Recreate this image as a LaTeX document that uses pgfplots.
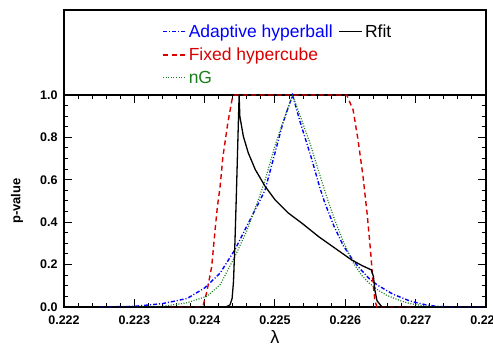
\documentclass[border=0pt]{standalone}
\usepackage{fontspec}
\setmainfont{Liberation Sans}
\usepackage{pgfplots}
\pgfplotsset{compat=1.18}
\definecolor{cblue}{rgb}{0,0,1}
\definecolor{cred}{rgb}{0.85,0,0}
\definecolor{cgreen}{rgb}{0.1,0.5,0.1}
\begin{document}
\begin{tikzpicture}
\begin{axis}[
  scale only axis, width=422pt, height=212pt,
  at={(0pt,0pt)}, anchor=south west,
  xmin=0.222, xmax=0.228, ymin=0, ymax=1,
  xtick={0.222,0.223,0.224,0.225,0.226,0.227,0.228},
  xticklabels={0.222,0.223,0.224,0.225,0.226,0.227,0.228},
  ytick={0,0.2,0.4,0.6,0.8,1},
  yticklabels={0.0,0.2,0.4,0.6,0.8,1.0},
  minor x tick num=4, minor y tick num=3,
  tick align=inside,
  major tick length=8pt, minor tick length=4pt,
  axis line style={line width=1.2pt},
  every tick/.style={black, line width=1pt},
  tick label style={font=\bfseries\fontsize{12.5}{14}\selectfont},
  xticklabel style={yshift=-5pt},
  yticklabel style={xshift=-3pt},
  xlabel={λ}, xlabel style={font=\fontsize{18}{20}\selectfont, inner sep=0pt, yshift=-3pt},
  ylabel={p-value}, ylabel style={font=\bfseries\fontsize{13}{15}\selectfont,
    at={(axis description cs:-0.0965,0.5)}, anchor=south, inner sep=0pt},
  clip=false,
  legend style={at={(axis description cs:0.2255,1.352)}, anchor=north west,
    draw=none, fill=none, font=\fontsize{17.5}{20}\selectfont, row sep=5pt,
    /tikz/every odd column/.append style={column sep=0pt},
    /tikz/every even column/.append style={column sep=4pt}},
  legend columns=2, legend cell align=left,
  legend image code/.code={\draw[#1] (0pt,0pt) -- (23pt,0pt);},
]
% outer frame above the p-value range
\draw[line width=1.2pt] (rel axis cs:0,1) -- (rel axis cs:0,1.401) -- (rel axis cs:1,1.401) -- (rel axis cs:1,1);

% Adaptive hyperball
\addplot[forget plot, cblue, line width=1.4pt, dash pattern=on 4pt off 2pt on 1pt off 2pt] coordinates {
(0.2225,0.000) (0.2230,0.003) (0.2234,0.016) (0.22375,0.040) (0.2240,0.090)
(0.22422,0.160) (0.22443,0.270) (0.22462,0.395) (0.22479,0.505) (0.22486,0.553)
(0.22497,0.690) (0.22511,0.865) (0.22525,1.000) (0.22536,0.870) (0.22552,0.700)
(0.22564,0.560) (0.22571,0.490) (0.22584,0.380) (0.22597,0.290) (0.22610,0.225)
(0.22621,0.180) (0.22635,0.130) (0.22645,0.105) (0.22655,0.085) (0.22668,0.060)
(0.22692,0.028) (0.22716,0.009) (0.2273,0.003) (0.2276,0.000) (0.2280,0.000)};

% Fixed hypercube
\addplot[forget plot, cred, line width=1.4pt, dash pattern=on 5pt off 3.5pt] coordinates {
(0.2235,0) (0.22393,0.000) (0.22398,0.01) (0.22403,0.07) (0.22410,0.19)
(0.22415,0.37) (0.22418,0.47) (0.22422,0.57) (0.22426,0.71) (0.22433,0.87)
(0.22439,0.98) (0.22443,1.0) (0.22602,1.0) (0.22611,0.93) (0.22618,0.79)
(0.22625,0.62) (0.22631,0.44) (0.22636,0.26) (0.22639,0.13) (0.22642,0.03)
(0.22645,0.0) (0.2270,0)};

% nG
\addplot[forget plot, cgreen, line width=1.2pt, dash pattern=on 1pt off 1.6pt] coordinates {
(0.2230,0.000) (0.2234,0.003) (0.22375,0.020) (0.22403,0.050) (0.22422,0.105)
(0.22443,0.238) (0.22460,0.360) (0.22479,0.530) (0.22486,0.600) (0.22500,0.760)
(0.22513,0.890) (0.22525,1.000) (0.22537,0.890) (0.22550,0.770) (0.22564,0.620)
(0.22575,0.505) (0.22585,0.410) (0.22597,0.310) (0.22611,0.210) (0.22623,0.150)
(0.22633,0.115) (0.22645,0.083) (0.22659,0.055) (0.22678,0.030) (0.22692,0.016)
(0.22716,0.003) (0.2274,0.0)};

% Rfit
\addplot[forget plot, black, line width=1.3pt] coordinates {
(0.2222,0) (0.22430,0.000) (0.22436,0.010) (0.22439,0.040) (0.22441,0.120)
(0.22443,0.300) (0.22445,0.520) (0.22447,0.760) (0.22449,1.000) (0.22450,0.900)
(0.22455,0.805) (0.22462,0.727) (0.22472,0.648) (0.22486,0.569) (0.22500,0.506)
(0.22519,0.443) (0.22538,0.396) (0.22562,0.332) (0.22585,0.278) (0.22609,0.222)
(0.22624,0.195) (0.22637,0.175) (0.22640,0.143) (0.22642,0.080) (0.22645,0.030)
(0.22652,0.000) (0.2280,0)};

\addlegendimage{cblue, line width=1.4pt, dash pattern=on 4pt off 2pt on 1pt off 2pt}
\addlegendentry{\textcolor{cblue}{Adaptive hyperball}}
\addlegendimage{black, line width=1.3pt}
\addlegendentry{Rfit}
\addlegendimage{cred, line width=1.4pt, dash pattern=on 5pt off 3.5pt}
\addlegendentry{\textcolor{cred}{Fixed hypercube}}
\addlegendimage{empty legend}
\addlegendentry{}
\addlegendimage{cgreen, line width=1.2pt, dash pattern=on 1pt off 1.6pt}
\addlegendentry{\textcolor{cgreen}{nG}}
\addlegendimage{empty legend}
\addlegendentry{}
\end{axis}
\pgfresetboundingbox
\path[use as bounding box] (-64pt,-40pt) rectangle (429pt,307pt);
\end{tikzpicture}
\end{document}
